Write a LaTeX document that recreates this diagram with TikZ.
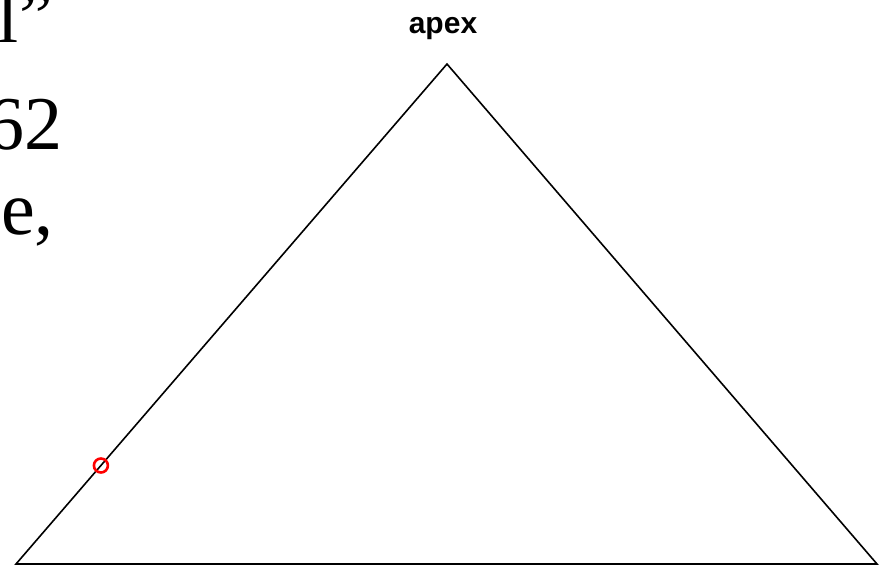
\documentclass[tikz,border=0pt]{standalone}
\usepackage{fontspec}
\setmainfont{Liberation Serif}
\setsansfont{Liberation Sans}
\usetikzlibrary{positioning}

\begin{document}
\begin{tikzpicture}[x=1pt,y=-1pt,
      edge/.style={
        draw=black, line width=1.6pt
      },
      marker/.style={
        circle, draw=red, line width=2.6pt,
        minimum size=14pt, inner sep=0pt
      },
      tag/.style={
        font=\sffamily\bfseries\fontsize{30}{36}\selectfont,
        inner sep=0pt
      },
      bigtext/.style={
        font=\fontsize{76}{90}\selectfont,
        inner sep=0pt, anchor=base east
      }
    ]
      \clip (0,0) rectangle (884,566);
      % text cut off at the left edge
      \node[bigtext] (lineone) at (53,42) {l”};
      \node[bigtext] (linetwo) at (63,149) {62};
      \node[bigtext] (linethree) at (54,234) {e,};
      % triangle
      \coordinate (leftcorner) at (16,564);
      \coordinate (apex) at (447,64);
      \coordinate (rightcorner) at (877,564);
      \node[tag, anchor=base] (apexlabel) at (443,33) {apex};
      \draw[edge] (leftcorner) -- (apex) -- (rightcorner) -- cycle;
      \path (leftcorner) -- (apex) node[marker, pos=0.197] (mark) {};
    \end{tikzpicture}
\end{document}
